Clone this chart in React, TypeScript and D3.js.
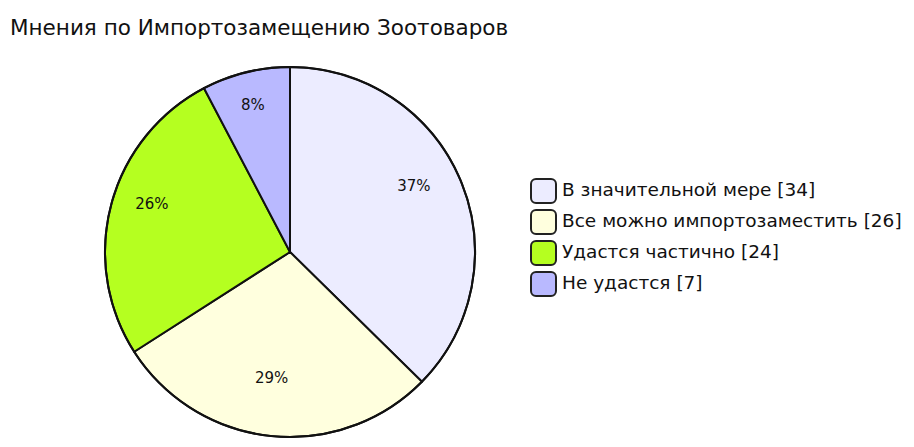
import React from "react";
import * as d3 from "d3";

const TITLE = "Мнения по Импортозамещению Зоотоваров";
const categories = ["В значительной мере", "Все можно импортозаместить", "Удастся частично", "Не удастся"];
const values = [34, 26, 24, 7];
const colors = ["#ECECFF", "#FFFFDE", "#B5FF20", "#B9B9FF"];

const W = 914;
const H = 447;
const FONT = "'DejaVu Sans', 'Noto Sans', sans-serif";

export default function App() {
  const cx = 290;
  const cy = 252;
  const r = 185;
  const total = d3.sum(values);
  const pie = d3.pie<number>().sort(null).value((d) => d)(values);
  const arc = d3.arc<d3.PieArcDatum<number>>().innerRadius(0).outerRadius(r);
  const labelArc = d3.arc<d3.PieArcDatum<number>>().innerRadius(r * 0.75).outerRadius(r * 0.75);

  const legendX = 531;
  const legendY0 = 179;
  const legendStep = 31;

  return (
    <svg width={W} height={H} style={{ position: "absolute", left: 0, top: 0, background: "#fff" }}>
      <text x={10} y={35} fontFamily={FONT} fontSize={21.5} fill="#111">
        {TITLE}
      </text>
      <g transform={`translate(${cx},${cy})`}>
        {pie.map((p, i) => (
          <path key={i} d={arc(p) || ""} fill={colors[i]} stroke="#111" strokeWidth={2} strokeLinejoin="round" />
        ))}
        <circle r={r} fill="none" stroke="#111" strokeWidth={2} />
        <g transform="translate(-4,-12)">
          {pie.map((p, i) => {
            const [lx, ly] = labelArc.centroid(p);
            return (
              <text key={i} x={lx} y={ly} textAnchor="middle" dominantBaseline="middle" fontFamily={FONT} fontSize={15} fill="#111">
                {`${Math.round((p.value / total) * 100)}%`}
              </text>
            );
          })}
        </g>
      </g>
      {categories.map((c, i) => {
        const y = legendY0 + i * legendStep;
        return (
          <g key={i}>
            <rect x={legendX} y={y} width={25} height={24} rx={5} ry={5} fill={colors[i]} stroke="#222" strokeWidth={2} />
            <text x={562} y={y + 12} dominantBaseline="middle" fontFamily={FONT} fontSize={18.5} fill="#111">
              {`${c} [${values[i]}]`}
            </text>
          </g>
        );
      })}
    </svg>
  );
}
